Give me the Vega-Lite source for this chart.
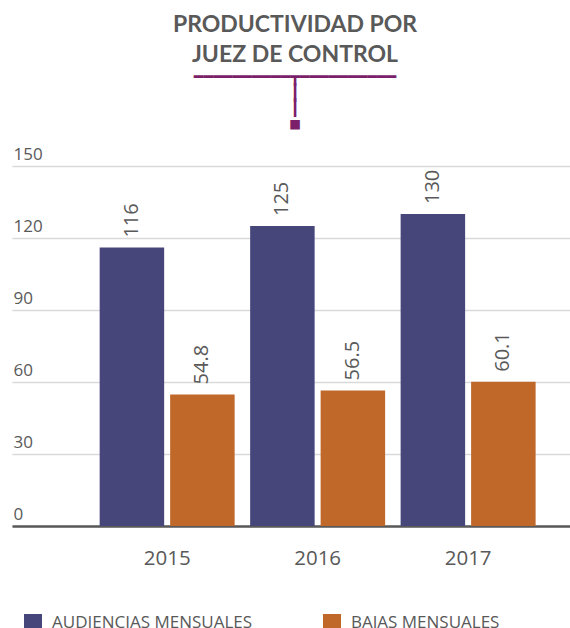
{
  "$schema": "https://vega.github.io/schema/vega-lite/v6.json",
  "autosize": "none",
  "width": 558,
  "height": 360,
  "padding": {"left": 12, "top": 166, "right": 0, "bottom": 102},
  "background": "white",
  "title": {
    "text": ["PRODUCTIVIDAD POR", "JUEZ DE CONTROL"],
    "subtitle": ["━━━━━━━━━━┳━━━━━━━━━━", "┃", "┃", "■"],
    "anchor": "middle",
    "frame": "group",
    "font": "Lato",
    "fontWeight": "bold",
    "fontSize": 23,
    "lineHeight": 30,
    "color": "#595959",
    "subtitleFont": "DejaVu Sans Mono",
    "subtitleFontSize": 16,
    "subtitleLineHeight": 15.7,
    "subtitleColor": "#7B1F6A",
    "subtitlePadding": 2,
    "offset": 13,
    "dx": 4
  },
  "data": {
    "values": [
      {"year": "2015", "serie": "AUDIENCIAS MENSUALES", "value": 116},
      {"year": "2015", "serie": "BAJAS MENSUALES", "value": 54.8},
      {"year": "2016", "serie": "AUDIENCIAS MENSUALES", "value": 125},
      {"year": "2016", "serie": "BAJAS MENSUALES", "value": 56.5},
      {"year": "2017", "serie": "AUDIENCIAS MENSUALES", "value": 130},
      {"year": "2017", "serie": "BAJAS MENSUALES", "value": 60.1}
    ]
  },
  "encoding": {
    "x": {
      "field": "year",
      "type": "nominal",
      "scale": {"paddingInner": 0, "paddingOuter": 0.354, "align": 0.75},
      "axis": {
        "title": null,
        "labelAngle": 0,
        "labelFont": "Open Sans",
        "labelFontSize": 20.5,
        "labelColor": "#595959",
        "labelPadding": 22,
        "ticks": false,
        "domainColor": "#595959",
        "domainWidth": 2.5,
        "grid": false
      }
    },
    "xOffset": {
      "field": "serie",
      "type": "nominal",
      "scale": {"paddingInner": 0.085, "paddingOuter": 0.11}
    },
    "y": {
      "field": "value",
      "type": "quantitative",
      "scale": {"domain": [0, 150], "nice": false},
      "axis": {
        "title": null,
        "values": [0, 30, 60, 90, 120, 150],
        "labelFont": "Open Sans",
        "labelFontSize": 17,
        "labelColor": "#595959",
        "labelAlign": "left",
        "labelBaseline": "bottom",
        "labelPadding": -1,
        "labelOffset": -3,
        "ticks": false,
        "domain": false,
        "gridColor": "#D9D9D9",
        "gridWidth": 1.5
      }
    }
  },
  "layer": [
    {
      "mark": {"type": "bar"},
      "encoding": {
        "color": {
          "field": "serie",
          "type": "nominal",
          "scale": {"range": ["#46467B", "#C0672A"]},
          "legend": {
            "title": null,
            "orient": "none",
            "legendX": 12,
            "legendY": 448,
            "direction": "horizontal",
            "symbolType": "square",
            "symbolSize": 324,
            "symbolStrokeWidth": 0,
            "labelFont": "Open Sans",
            "labelFontSize": 17,
            "labelColor": "#595959",
            "labelOffset": 10,
            "columnPadding": 70,
            "labelLimit": 400
          }
        }
      }
    },
    {
      "mark": {
        "type": "text",
        "angle": 270,
        "align": "left",
        "baseline": "middle",
        "dx": 10,
        "font": "Open Sans",
        "fontSize": 20,
        "color": "#595959"
      },
      "encoding": {
        "text": {"field": "value", "type": "quantitative"}
      }
    }
  ],
  "config": {"view": {"stroke": null}}
}
